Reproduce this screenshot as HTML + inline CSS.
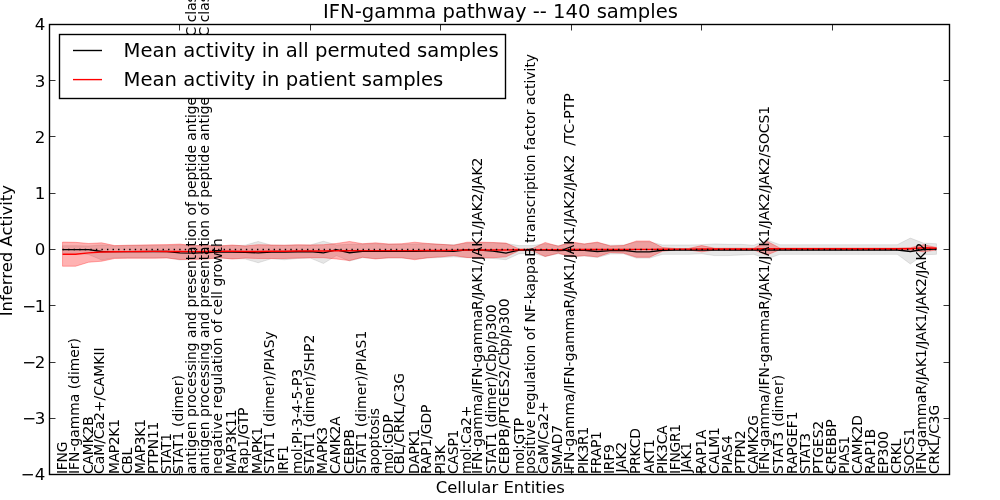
<!DOCTYPE html>
<html lang="en"><head><meta charset="utf-8"><title>IFN-gamma pathway -- 140 samples</title>
<style>html,body{margin:0;padding:0;background:#fff;overflow:hidden}svg{display:block;will-change:transform}text{font-family:"DejaVu Sans","Liberation Sans",sans-serif;fill:#000}</style></head><body>
<svg width="1000" height="500" viewBox="0 0 1000 500">
<rect x="0" y="0" width="1000" height="500" fill="#fff"/>
<g transform="translate(-0.5,-0.4)">
<polygon points="63.04,246.12 76.09,246.12 89.13,246.37 102.17,245.37 115.22,246.37 128.26,246.00 141.30,246.00 154.35,246.00 167.39,246.00 180.43,245.37 193.48,246.00 206.52,246.00 219.57,246.37 232.61,246.00 245.65,245.63 258.70,241.87 271.74,245.63 284.78,245.63 297.83,245.63 310.87,245.37 323.91,241.62 336.96,245.37 350.00,244.75 363.04,244.38 376.09,244.12 389.13,244.75 402.17,244.75 415.22,244.38 428.26,244.12 441.30,244.75 454.35,245.12 467.39,243.50 480.43,243.13 493.48,243.13 506.52,243.88 519.57,246.00 532.61,246.00 545.65,244.12 558.70,246.00 571.74,243.50 584.78,244.38 597.83,243.13 610.87,245.63 623.91,245.37 636.96,242.25 650.00,242.25 663.04,245.37 676.09,245.37 689.13,245.37 702.17,245.12 715.22,244.38 728.26,244.75 741.30,244.75 754.35,245.63 767.39,240.38 780.43,245.12 793.48,245.12 806.52,245.12 819.57,245.12 832.61,245.12 845.65,245.12 858.70,245.12 871.74,245.12 884.78,245.12 897.83,245.12 910.87,238.50 923.91,243.50 936.96,244.12 936.96,254.75 923.91,255.12 910.87,264.38 897.83,254.75 884.78,254.75 871.74,254.75 858.70,254.75 845.65,254.75 832.61,254.75 819.57,254.75 806.52,254.75 793.48,254.75 780.43,254.75 767.39,259.38 754.35,254.75 741.30,255.38 728.26,256.00 715.22,256.00 702.17,254.12 689.13,254.75 676.09,254.75 663.04,254.75 650.00,258.50 636.96,258.50 623.91,254.12 610.87,254.38 597.83,257.88 584.78,256.38 571.74,256.88 558.70,254.12 545.65,256.88 532.61,253.50 519.57,254.12 506.52,260.12 493.48,258.88 480.43,258.50 467.39,258.12 454.35,257.25 441.30,257.88 428.26,258.50 415.22,259.12 402.17,258.50 389.13,258.50 376.09,258.88 363.04,258.12 350.00,261.38 336.96,256.00 323.91,263.88 310.87,258.50 297.83,258.88 284.78,260.12 271.74,259.12 258.70,263.12 245.65,259.38 232.61,259.12 219.57,258.50 206.52,259.38 193.48,259.75 180.43,260.38 167.39,258.12 154.35,258.12 141.30,258.12 128.26,258.12 115.22,258.12 102.17,260.38 89.13,254.88 76.09,253.62 63.04,253.62" fill="#808080" fill-opacity="0.2" stroke="#808080" stroke-opacity="0.2" stroke-width="1"/>
<polygon points="63.04,242.50 76.09,242.75 89.13,243.88 102.17,243.25 115.22,246.00 128.26,245.63 141.30,245.37 154.35,245.12 167.39,245.00 180.43,244.50 193.48,246.00 206.52,246.00 219.57,246.37 232.61,245.37 245.65,246.37 258.70,245.12 271.74,245.37 284.78,245.63 297.83,245.12 310.87,245.37 323.91,245.12 336.96,243.88 350.00,241.87 363.04,244.12 376.09,243.25 389.13,244.38 402.17,244.12 415.22,242.62 428.26,243.88 441.30,244.75 454.35,245.63 467.39,242.62 480.43,242.50 493.48,242.87 506.52,243.50 519.57,249.38 532.61,249.12 545.65,242.87 558.70,246.63 571.74,242.25 584.78,244.38 597.83,242.50 610.87,246.37 623.91,246.00 636.96,241.38 650.00,241.38 663.04,247.88 676.09,248.88 689.13,248.88 702.17,246.00 715.22,248.62 728.26,248.62 741.30,248.62 754.35,248.62 767.39,241.62 780.43,248.50 793.48,248.50 806.52,248.50 819.57,248.50 832.61,248.50 845.65,248.50 858.70,248.50 871.74,248.50 884.78,248.50 897.83,248.50 910.87,248.12 923.91,245.12 936.96,247.88 936.96,250.38 923.91,252.25 910.87,250.38 897.83,250.12 884.78,250.12 871.74,250.12 858.70,250.12 845.65,250.12 832.61,250.12 819.57,250.12 806.52,250.12 793.48,250.12 780.43,250.12 767.39,255.38 754.35,250.38 741.30,250.38 728.26,250.38 715.22,250.38 702.17,252.25 689.13,250.38 676.09,250.38 663.04,251.62 650.00,257.62 636.96,257.62 623.91,253.50 610.87,252.88 597.83,257.25 584.78,256.00 571.74,257.25 558.70,253.50 545.65,256.88 532.61,251.00 519.57,251.00 506.52,257.25 493.48,258.12 480.43,258.12 467.39,257.88 454.35,256.00 441.30,257.25 428.26,258.12 415.22,260.12 402.17,258.12 389.13,258.12 376.09,259.38 363.04,257.62 350.00,261.00 336.96,259.38 323.91,258.12 310.87,258.12 297.83,258.50 284.78,258.88 271.74,258.88 258.70,258.88 245.65,258.50 232.61,259.38 219.57,258.12 206.52,259.38 193.48,259.75 180.43,259.88 167.39,258.38 154.35,258.62 141.30,258.62 128.26,258.62 115.22,258.88 102.17,261.62 89.13,262.62 76.09,266.62 63.04,266.62" fill="#ff0000" fill-opacity="0.3" stroke="#ff0000" stroke-opacity="0.3" stroke-width="1"/>
</g>
<g transform="translate(-0.5,-0.4)">
<polyline points="63.04,250.00 76.09,250.00 89.13,250.00 102.17,251.88 115.22,252.00 128.26,252.00 141.30,252.00 154.35,251.88 167.39,251.88 180.43,253.25 193.48,253.50 206.52,252.88 219.57,252.38 232.61,252.38 245.65,252.62 258.70,253.25 271.74,252.38 284.78,252.38 297.83,252.12 310.87,251.88 323.91,253.25 336.96,250.12 350.00,253.12 363.04,251.62 376.09,251.62 389.13,251.62 402.17,251.62 415.22,251.62 428.26,251.38 441.30,251.38 454.35,251.62 467.39,250.12 480.43,250.38 493.48,251.38 506.52,253.50 519.57,250.38 532.61,250.38 545.65,250.38 558.70,251.00 571.74,250.38 584.78,250.62 597.83,251.88 610.87,251.00 623.91,250.62 636.96,252.25 650.00,252.25 663.04,250.62 676.09,250.38 689.13,250.38 702.17,250.38 715.22,250.38 728.26,250.38 741.30,250.38 754.35,250.38 767.39,250.38 780.43,250.38 793.48,250.38 806.52,250.38 819.57,250.38 832.61,250.38 845.65,250.38 858.70,250.38 871.74,250.38 884.78,250.38 897.83,250.38 910.87,251.88 923.91,249.87 936.96,249.38" fill="none" stroke="#000" stroke-width="1.39"/>
<polyline points="63.04,254.62 76.09,254.62 89.13,253.25 102.17,252.38 115.22,252.12 128.26,252.00 141.30,251.88 154.35,251.75 167.39,251.88 180.43,251.88 193.48,252.00 206.52,251.88 219.57,251.62 232.61,251.62 245.65,251.88 258.70,251.88 271.74,251.62 284.78,251.62 297.83,251.38 310.87,251.38 323.91,251.38 336.96,251.12 350.00,251.12 363.04,251.00 376.09,251.00 389.13,251.00 402.17,251.00 415.22,251.00 428.26,250.88 441.30,250.88 454.35,250.75 467.39,250.38 480.43,250.38 493.48,250.38 506.52,250.38 519.57,250.12 532.61,250.00 545.65,250.00 558.70,250.00 571.74,249.87 584.78,249.87 597.83,249.87 610.87,249.87 623.91,249.87 636.96,249.75 650.00,249.75 663.04,249.62 676.09,249.50 689.13,249.50 702.17,249.38 715.22,249.38 728.26,249.38 741.30,249.38 754.35,249.38 767.39,249.12 780.43,249.12 793.48,249.12 806.52,249.12 819.57,249.12 832.61,249.12 845.65,249.12 858.70,249.12 871.74,249.12 884.78,249.12 897.83,249.12 910.87,249.12 923.91,248.12 936.96,248.62" fill="none" stroke="#ff0000" stroke-width="1.39"/>
</g>
<line x1="62.54" y1="249.50" x2="936.46" y2="249.50" stroke="#000" stroke-width="1.3" stroke-dasharray="1.3889,4.1667"/>
<g font-size="13.89">
<text transform="translate(67.00,474.00) rotate(-90)" textLength="32.42">IFNG</text>
<text transform="translate(79.00,474.00) rotate(-90)" textLength="135.97">IFN-gamma (dimer)</text>
<text transform="translate(93.00,474.00) rotate(-90)" textLength="57.81">CAMK2B</text>
<text transform="translate(104.00,474.00) rotate(-90)" textLength="126.59">CaM/Ca2+/CAMKII</text>
<text transform="translate(119.00,474.00) rotate(-90)" textLength="54.99">MAP2K1</text>
<text transform="translate(132.00,474.00) rotate(-90)" textLength="26.14">CBL</text>
<text transform="translate(145.00,474.00) rotate(-90)" textLength="54.99">MAP3K1</text>
<text transform="translate(158.00,474.00) rotate(-90)" textLength="52.45">PTPN11</text>
<text transform="translate(171.00,474.00) rotate(-90)" textLength="41.12">STAT1</text>
<text transform="translate(183.00,474.00) rotate(-90)" textLength="99.02">STAT1 (dimer)</text>
<text transform="translate(196.00,474.00) rotate(-90)" textLength="494.55">antigen processing and presentation of peptide antigen via MHC class I</text>
<text transform="translate(209.00,474.00) rotate(-90)" textLength="498.63">antigen processing and presentation of peptide antigen via MHC class II</text>
<text transform="translate(222.00,474.00) rotate(-90)" textLength="235.93">negative regulation of cell growth</text>
<text transform="translate(236.00,474.00) rotate(-90)" textLength="64.62">MAP3K11</text>
<text transform="translate(248.00,474.00) rotate(-90)" textLength="66.45">Rap1/GTP</text>
<text transform="translate(262.00,474.00) rotate(-90)" textLength="46.97">MAPK1</text>
<text transform="translate(274.00,474.00) rotate(-90)" textLength="142.83">STAT1 (dimer)/PIASy</text>
<text transform="translate(288.00,474.00) rotate(-90)" textLength="28.95">IRF1</text>
<text transform="translate(302.00,474.00) rotate(-90)" textLength="105.10">mol:PI-3-4-5-P3</text>
<text transform="translate(314.00,474.00) rotate(-90)" textLength="139.33">STAT1 (dimer)/SHP2</text>
<text transform="translate(327.00,474.00) rotate(-90)" textLength="46.97">MAPK3</text>
<text transform="translate(340.00,474.00) rotate(-90)" textLength="57.78">CAMK2A</text>
<text transform="translate(354.00,474.00) rotate(-90)" textLength="45.06">CEBPB</text>
<text transform="translate(366.00,474.00) rotate(-90)" textLength="143.28">STAT1 (dimer)/PIAS1</text>
<text transform="translate(379.00,474.00) rotate(-90)" textLength="66.06">apoptosis</text>
<text transform="translate(393.00,474.00) rotate(-90)" textLength="59.54">mol:GDP</text>
<text transform="translate(404.00,474.00) rotate(-90)" textLength="100.92">CBL/CRKL/C3G</text>
<text transform="translate(419.00,474.00) rotate(-90)" textLength="45.43">DAPK1</text>
<text transform="translate(431.00,474.00) rotate(-90)" textLength="69.45">RAP1/GDP</text>
<text transform="translate(445.00,474.00) rotate(-90)" textLength="28.79">PI3K</text>
<text transform="translate(458.00,474.00) rotate(-90)" textLength="44.39">CASP1</text>
<text transform="translate(471.00,474.00) rotate(-90)" textLength="68.39">mol:Ca2+</text>
<text transform="translate(482.00,474.00) rotate(-90)" textLength="316.29">IFN-gamma/IFN-gammaR/JAK1/JAK1/JAK2/JAK2</text>
<text transform="translate(496.00,474.00) rotate(-90)" textLength="169.53">STAT1 (dimer)/Cbp/p300</text>
<text transform="translate(509.00,474.00) rotate(-90)" textLength="175.68">CEBPB/PTGES2/Cbp/p300</text>
<text transform="translate(524.00,474.00) rotate(-90)" textLength="56.04">mol:GTP</text>
<text transform="translate(535.00,474.00) rotate(-90)" textLength="420.08">positive regulation of NF-kappaB transcription factor activity</text>
<text transform="translate(548.00,474.00) rotate(-90)" textLength="72.68">CaM/Ca2+</text>
<text transform="translate(562.00,474.00) rotate(-90)" textLength="49.00">SMAD7</text>
<text transform="translate(574.00,474.00) rotate(-90)" textLength="380.55">IFN-gamma/IFN-gammaR/JAK1/JAK1/JAK2/JAK2&#160;&#160;/TC-PTP</text>
<text transform="translate(588.00,474.00) rotate(-90)" textLength="47.26">PIK3R1</text>
<text transform="translate(601.00,474.00) rotate(-90)" textLength="42.95">FRAP1</text>
<text transform="translate(614.00,474.00) rotate(-90)" textLength="29.75">IRF9</text>
<text transform="translate(626.00,472.40) rotate(-90)" textLength="30.48">JAK2</text>
<text transform="translate(640.00,474.00) rotate(-90)" textLength="45.93">PRKCD</text>
<text transform="translate(654.00,473.20) rotate(-90)" textLength="34.03">AKT1</text>
<text transform="translate(667.00,474.00) rotate(-90)" textLength="48.78">PIK3CA</text>
<text transform="translate(680.00,474.00) rotate(-90)" textLength="50.09">IFNGR1</text>
<text transform="translate(691.00,472.40) rotate(-90)" textLength="30.48">JAK1</text>
<text transform="translate(706.00,474.00) rotate(-90)" textLength="44.47">RAP1A</text>
<text transform="translate(719.00,474.00) rotate(-90)" textLength="46.92">CALM1</text>
<text transform="translate(732.00,474.00) rotate(-90)" textLength="38.79">PIAS4</text>
<text transform="translate(745.00,474.00) rotate(-90)" textLength="43.62">PTPN2</text>
<text transform="translate(758.00,474.00) rotate(-90)" textLength="59.04">CAMK2G</text>
<text transform="translate(769.00,474.00) rotate(-90)" textLength="368.02">IFN-gamma/IFN-gammaR/JAK1/JAK1/JAK2/JAK2/SOCS1</text>
<text transform="translate(783.00,474.00) rotate(-90)" textLength="99.18">STAT3 (dimer)</text>
<text transform="translate(797.00,474.00) rotate(-90)" textLength="62.47">RAPGEF1</text>
<text transform="translate(810.00,474.00) rotate(-90)" textLength="41.12">STAT3</text>
<text transform="translate(823.00,474.00) rotate(-90)" textLength="53.20">PTGES2</text>
<text transform="translate(836.00,474.00) rotate(-90)" textLength="54.70">CREBBP</text>
<text transform="translate(849.00,474.00) rotate(-90)" textLength="37.99">PIAS1</text>
<text transform="translate(862.00,474.00) rotate(-90)" textLength="58.97">CAMK2D</text>
<text transform="translate(875.00,474.00) rotate(-90)" textLength="45.30">RAP1B</text>
<text transform="translate(888.00,474.00) rotate(-90)" textLength="42.83">EP300</text>
<text transform="translate(901.00,474.00) rotate(-90)" textLength="35.37">CRKL</text>
<text transform="translate(914.00,474.00) rotate(-90)" textLength="46.26">SOCS1</text>
<text transform="translate(926.00,474.00) rotate(-90)" textLength="231.32">IFN-gammaR/JAK1/JAK1/JAK2/JAK2</text>
<text transform="translate(939.00,474.00) rotate(-90)" textLength="69.31">CRKL/C3G</text>
</g>
<rect x="49.5" y="24.5" width="900.0" height="450.0" fill="none" stroke="#000" stroke-width="1.39"/>
<path d="M179.5 474.5 v-6 M179.5 24.5 v6 M310.5 474.5 v-6 M310.5 24.5 v6 M440.5 474.5 v-6 M440.5 24.5 v6 M571.5 474.5 v-6 M571.5 24.5 v6 M701.5 474.5 v-6 M701.5 24.5 v6 M832.5 474.5 v-6 M832.5 24.5 v6 M49.5 474.5 h6 M949.5 474.5 h-6 M49.5 418.5 h6 M949.5 418.5 h-6 M49.5 362.5 h6 M949.5 362.5 h-6 M49.5 305.5 h6 M949.5 305.5 h-6 M49.5 249.5 h6 M949.5 249.5 h-6 M49.5 193.5 h6 M949.5 193.5 h-6 M49.5 136.5 h6 M949.5 136.5 h-6 M49.5 80.5 h6 M949.5 80.5 h-6 M49.5 24.5 h6 M949.5 24.5 h-6" stroke="#000" stroke-width="0.8" fill="none"/>
<g font-size="16.67" text-anchor="end">
<text x="45.3" y="480.4"><tspan letter-spacing="0.0">−</tspan>4</text>
<text x="45.3" y="424.1"><tspan letter-spacing="-1.4">−</tspan>3</text>
<text x="45.3" y="367.9"><tspan letter-spacing="-1.4">−</tspan>2</text>
<text x="45.3" y="311.6"><tspan letter-spacing="-1.4">−</tspan>1</text>
<text x="45.3" y="255.4">0</text>
<text x="45.3" y="199.2">1</text>
<text x="45.3" y="142.9">2</text>
<text x="45.3" y="86.7">3</text>
<text x="45.3" y="30.4">4</text>
</g>
<text x="500.5" y="17.6" font-size="19.57" text-anchor="middle">IFN-gamma pathway -- 140 samples</text>
<text x="500.3" y="492.5" font-size="16.45" text-anchor="middle">Cellular Entities</text>
<text transform="translate(11.8,250.7) rotate(-90)" font-size="16.45" text-anchor="middle">Inferred Activity</text>
<rect x="59.5" y="34.5" width="446" height="64" fill="#fff" stroke="#000" stroke-width="1.39"/>
<line x1="73" y1="50.5" x2="102" y2="50.5" stroke="#000" stroke-width="1.39"/>
<line x1="73" y1="79.6" x2="102" y2="79.6" stroke="#ff0000" stroke-width="1.39"/>
<text x="123.5" y="57.2" font-size="19.62">Mean activity in all permuted samples</text>
<text x="123.5" y="86.2" font-size="19.62">Mean activity in patient samples</text>
</svg></body></html>
